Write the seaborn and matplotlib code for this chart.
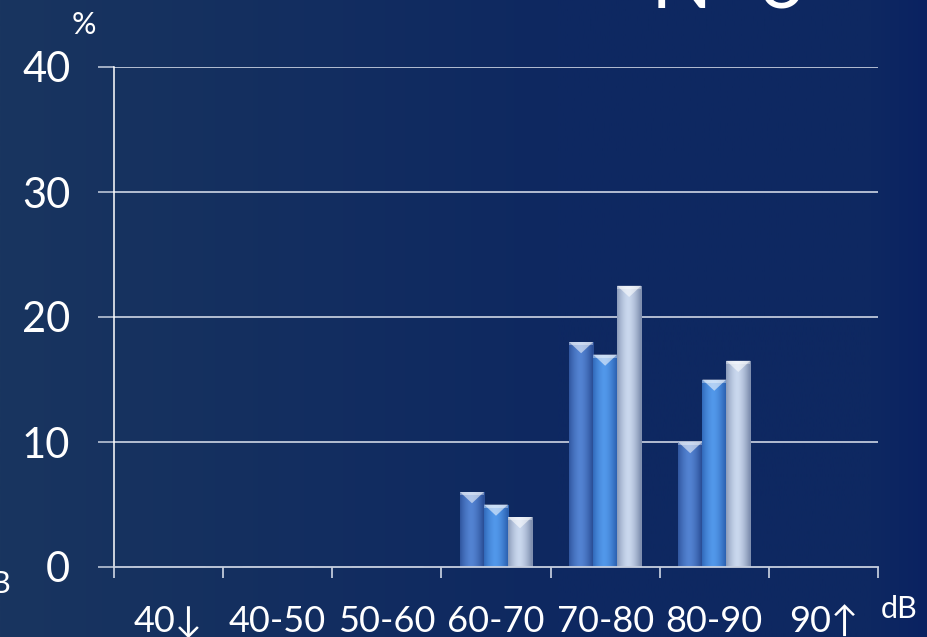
import numpy as np
import pandas as pd
import matplotlib
matplotlib.use("Agg")
import matplotlib.pyplot as plt
import matplotlib.colors as mcolors
import seaborn as sns

# ---- data ----
categories = ["40↓", "40-50", "50-60", "60-70", "70-80", "80-90", "90↑"]
series_names = ["A", "B", "C"]
series_a = [0, 0, 0, 6, 18, 10, 0]
series_b = [0, 0, 0, 5, 17, 15, 0]
series_c = [0, 0, 0, 4, 22.5, 16.5, 0]
y_ticks = [0, 10, 20, 30, 40]

df = pd.DataFrame({
    "cat": categories * 3,
    "series": [series_names[0]] * 7 + [series_names[1]] * 7 + [series_names[2]] * 7,
    "value": series_a + series_b + series_c,
})

sns.set_theme(style="white")
FONT = ["Lato", "DejaVu Sans"]
plt.rcParams["font.family"] = FONT

W, H = 928, 637
fig = plt.figure(figsize=(W / 100, H / 100), dpi=100)

# background gradient
bg = fig.add_axes([0, 0, 1, 1], zorder=-10)
left_c = np.array(mcolors.to_rgb("#19355f"))
mid_c = np.array(mcolors.to_rgb("#0e2861"))
right_c = np.array(mcolors.to_rgb("#0a2262"))
u = np.linspace(0, 1, 400)
cols = np.array([left_c + (mid_c - left_c) * min(t / 0.6, 1) if t < 0.94 else
                 mid_c + (right_c - mid_c) * (t - 0.94) / 0.06 for t in u])
bg.imshow(cols[None, :, :], aspect="auto", extent=[0, 1, 0, 1])
bg.set_axis_off()

L, R = 114 / W, 878 / W
B, T = (H - 567) / H, (H - 67) / H
ax = fig.add_axes([L, B, R - L, T - B])
ax.patch.set_alpha(0)

palette = {"A": "#3b66b6", "B": "#3f84d8", "C": "#a9bad8"}
sns.barplot(data=df, x="cat", y="value", hue="series", order=categories,
            hue_order=series_names, palette=palette, width=0.66, dodge=True,
            legend=False, ax=ax, saturation=1, zorder=3)

grad = {
    "A": ("#2a4e96", "#5383d2"),
    "B": ("#2c62b2", "#5298ea"),
    "C": ("#8090b0", "#cad8ee"),
}
xlim = (-0.5, len(categories) - 0.5)
ylim = (0, 40)

bars = [p for p in ax.patches]
n = len(categories)
for i, p in enumerate(bars):
    s = series_names[i // n] if len(bars) == 3 * n else series_names[0]
    x, w, h = p.get_x(), p.get_width(), p.get_height()
    if h <= 0:
        continue
    e, c = (np.array(mcolors.to_rgb(k)) for k in grad[s])
    uu = np.linspace(0, 1, 60)
    prof = 1 - np.abs(2 * uu - 0.9) ** 1.6
    prof = np.clip(prof, 0, 1)
    img = e[None, :] + (c - e)[None, :] * prof[:, None]
    im = ax.imshow(img[None, :, :], extent=[x, x + w, 0, h], aspect="auto",
                   zorder=4, interpolation="bilinear")
    im.set_clip_path(p)
    # top chevron highlight
    ch = 0.9
    ax.fill([x, x + w, x + w / 2], [h, h, h - ch], color="white", alpha=0.55,
            zorder=5, lw=0)
    ax.fill([x, x + w, x + w, x], [h, h, h - 0.25, h - 0.25], color="white",
            alpha=0.35, zorder=5, lw=0)
    p.set_edgecolor("none")

ax.set_xlim(*xlim)
ax.set_ylim(*ylim)

# grid
for yv in y_ticks[1:]:
    ax.axhline(yv, color="#dfe5f0", lw=1.1, zorder=1)

for sp in ["top", "right"]:
    ax.spines[sp].set_visible(False)
ax.spines["left"].set_color("white")
ax.spines["left"].set_linewidth(1.1)
ax.spines["bottom"].set_color("#c8d0e0")
ax.spines["bottom"].set_linewidth(1.3)
ax.spines["left"].set_zorder(6)
ax.spines["bottom"].set_zorder(6)

ax.set_yticks(y_ticks)
ax.set_yticklabels([str(v) for v in y_ticks], color="white", fontsize=30,
                   family=FONT)
ax.tick_params(axis="y", which="major", length=11.5, width=1.1,
               color="#c8d0e0", pad=20, left=True)

ax.set_xticks(range(n))
ax.set_xticklabels(categories, color="white", fontsize=26, family=FONT)
ax.set_xticks(np.arange(-0.5, n, 1.0), minor=True)
ax.tick_params(axis="x", which="major", length=0, pad=27, bottom=True)
ax.tick_params(axis="x", which="minor", length=8, width=1.1,
               color="#e0e6f0", bottom=True)
ax.set_xlabel("")
ax.set_ylabel("")

fig.text(84 / W, 1 - 25 / H, "%", color="white", fontsize=22, ha="center",
         va="center", family=FONT)
fig.text(899 / W, 1 - 609 / H, "dB", color="white", fontsize=22, ha="center",
         va="center", family=FONT)
fig.text(11 / W, 1 - 584 / H, "dB", color="white", fontsize=22, ha="right",
         va="center", family=FONT)
fig.text(728 / W, 1 - 8 / H, "N=6", color="white", fontsize=58, ha="center",
         va="baseline", family=FONT)

fig.savefig("out.png", dpi=100)
